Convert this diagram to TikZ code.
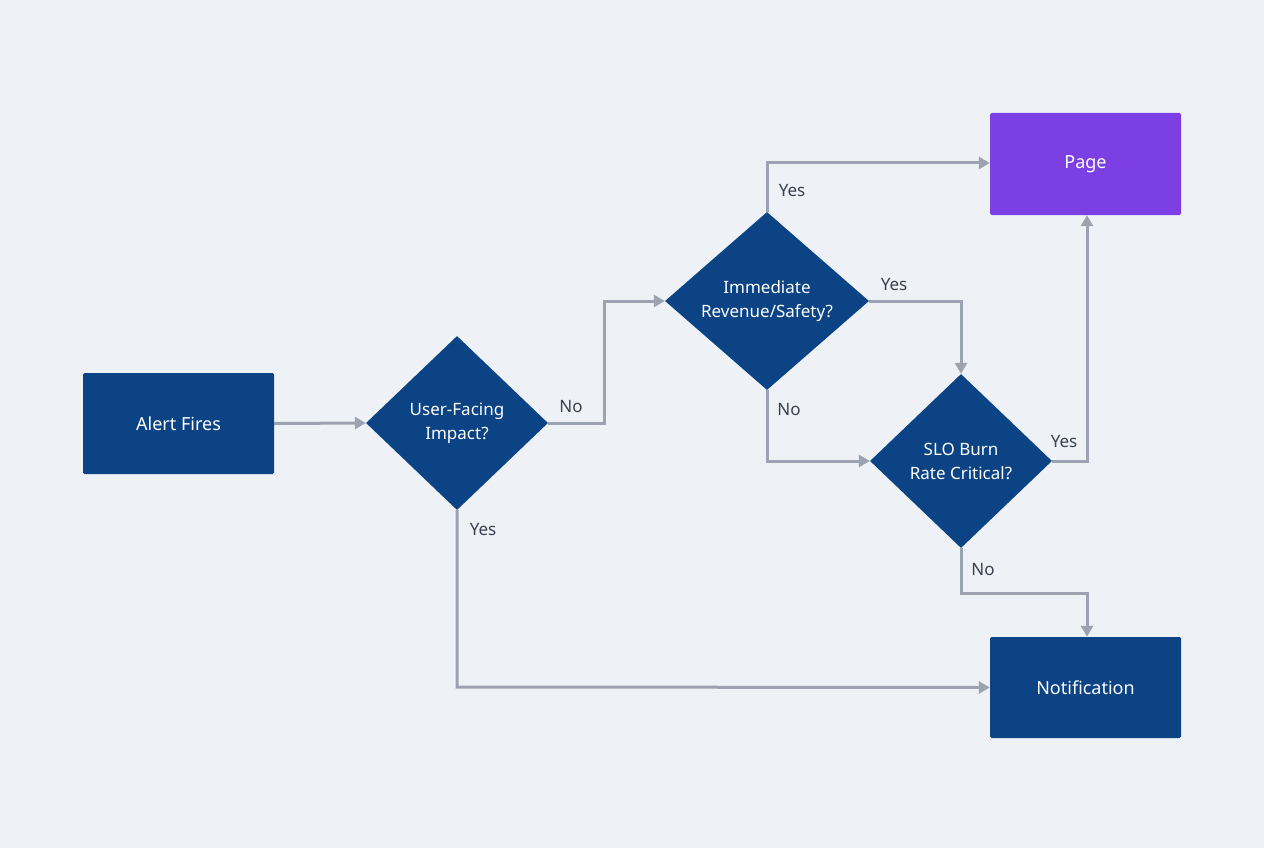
\documentclass[tikz,border=0pt]{standalone}
\usepackage{fontspec}
\setmainfont{Noto Sans}
\usetikzlibrary{shapes.geometric,arrows.meta}
\definecolor{bg}{HTML}{EEF2F7}
\definecolor{navy}{HTML}{0B4384}
\definecolor{purp}{HTML}{7B3FE4}
\definecolor{arr}{HTML}{9AA3AF}
\definecolor{lbl}{HTML}{374151}
\begin{document}
\begin{tikzpicture}[x=1pt,y=-1pt,
  box/.style={rectangle,fill=navy,text=white,minimum width=191pt,minimum height=101pt,inner sep=0pt,rounded corners=1.5pt,font=\fontsize{18}{22}\selectfont},
  dia/.style={diamond,fill=navy,text=white,inner sep=0pt,align=center,font=\fontsize{17}{24}\selectfont},
  conn/.style={draw=arr,line width=3pt,-{Triangle[length=11pt,width=12pt]}},
  lab/.style={text=lbl,font=\fontsize{17}{20}\selectfont}]
\useasboundingbox[fill=bg] (0,0) rectangle (1264,848);
\node[box] (alert) at (178.5,423.5) {Alert Fires};
\node[dia,minimum width=182pt,minimum height=174pt] (uf) at (457,423) {User-Facing\\Impact?};
\node[dia,minimum width=204pt,minimum height=178pt] (imm) at (767,301) {Immediate\\Revenue/Safety?};
\node[dia,minimum width=182pt,minimum height=174pt] (slo) at (961,461) {SLO Burn\\Rate Critical?};
\node[box,fill=purp,minimum height=102pt] (page) at (1085.5,164) {Page};
\node[box] (notif) at (1085.5,687.5) {Notification};
\draw[conn] (alert.east) -- (uf.west);
\draw[conn] (uf.east) -- (604,423) -- (604,301) -- (imm.west);
\draw[conn] (uf.south) -- (457,687) -- (notif.west);
\draw[conn] (imm.north) -- (767,163) -- (page.west |- 0,163);
\draw[conn] (imm.east) -- (961,301) -- (slo.north);
\draw[conn] (imm.south) -- (767,461) -- (slo.west);
\draw[conn] (slo.east) -- (1087,461) -- (page.south -| 1087,0);
\draw[conn] (slo.south) -- (961,593) -- (1087,593) -- (notif.north -| 1087,0);
\node[lab] at (571,407) {No};
\node[lab] at (483,530) {Yes};
\node[lab] at (792,191) {Yes};
\node[lab] at (894,285) {Yes};
\node[lab] at (789,410) {No};
\node[lab] at (1064,442) {Yes};
\node[lab] at (983,570) {No};
\end{tikzpicture}
\end{document}
